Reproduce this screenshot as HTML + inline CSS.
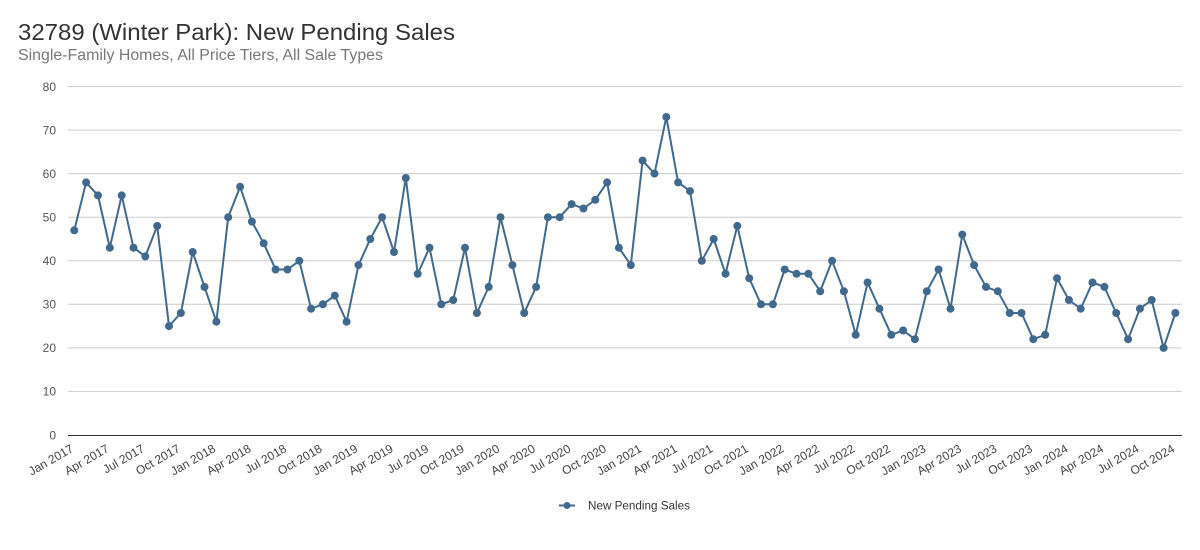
<!DOCTYPE html>
<html>
<head>
<meta charset="utf-8">
<style>
  html, body { margin: 0; padding: 0; background: #ffffff; }
  svg { display: block; font-family: "Liberation Sans", sans-serif; }
</style>
</head>
<body>
<svg width="1200" height="550" viewBox="0 0 1200 550" xmlns="http://www.w3.org/2000/svg">
  <rect width="1200" height="550" fill="#ffffff"/>
  <!-- Title -->
  <text x="18" y="40" font-size="23" fill="#333333" textLength="437" lengthAdjust="spacingAndGlyphs">32789 (Winter Park): New Pending Sales</text>
  <text x="18" y="60" font-size="15.5" fill="#777777" textLength="365" lengthAdjust="spacingAndGlyphs">Single-Family Homes, All Price Tiers, All Sale Types</text>

  <!-- Gridlines -->
  <g stroke="#cccccc" stroke-width="1">
    <line x1="68" y1="86.5" x2="1182" y2="86.5"/>
    <line x1="68" y1="130.1" x2="1182" y2="130.1"/>
    <line x1="68" y1="173.6" x2="1182" y2="173.6"/>
    <line x1="68" y1="217.2" x2="1182" y2="217.2"/>
    <line x1="68" y1="260.8" x2="1182" y2="260.8"/>
    <line x1="68" y1="304.3" x2="1182" y2="304.3"/>
    <line x1="68" y1="347.9" x2="1182" y2="347.9"/>
    <line x1="68" y1="391.4" x2="1182" y2="391.4"/>
  </g>
  <line x1="68" y1="435.5" x2="1182" y2="435.5" stroke="#333333" stroke-width="1"/>

  <!-- Y labels -->
  <g font-size="12" fill="#555555" text-anchor="end">
    <text x="56" y="91">80</text>
    <text x="56" y="134.5">70</text>
    <text x="56" y="178">60</text>
    <text x="56" y="221.5">50</text>
    <text x="56" y="265">40</text>
    <text x="56" y="308.5">30</text>
    <text x="56" y="352">20</text>
    <text x="56" y="395.5">10</text>
    <text x="56" y="439.5">0</text>
  </g>

  <!-- X labels -->
  <g font-size="12" fill="#444444" text-anchor="end">
    <text transform="translate(74.3,451) rotate(-30)">Jan 2017</text>
    <text transform="translate(109.8,451) rotate(-30)">Apr 2017</text>
    <text transform="translate(145.3,451) rotate(-30)">Jul 2017</text>
    <text transform="translate(180.9,451) rotate(-30)">Oct 2017</text>
    <text transform="translate(216.4,451) rotate(-30)">Jan 2018</text>
    <text transform="translate(251.9,451) rotate(-30)">Apr 2018</text>
    <text transform="translate(287.4,451) rotate(-30)">Jul 2018</text>
    <text transform="translate(322.9,451) rotate(-30)">Oct 2018</text>
    <text transform="translate(358.5,451) rotate(-30)">Jan 2019</text>
    <text transform="translate(394.0,451) rotate(-30)">Apr 2019</text>
    <text transform="translate(429.5,451) rotate(-30)">Jul 2019</text>
    <text transform="translate(465.0,451) rotate(-30)">Oct 2019</text>
    <text transform="translate(500.5,451) rotate(-30)">Jan 2020</text>
    <text transform="translate(536.1,451) rotate(-30)">Apr 2020</text>
    <text transform="translate(571.6,451) rotate(-30)">Jul 2020</text>
    <text transform="translate(607.1,451) rotate(-30)">Oct 2020</text>
    <text transform="translate(642.6,451) rotate(-30)">Jan 2021</text>
    <text transform="translate(678.1,451) rotate(-30)">Apr 2021</text>
    <text transform="translate(713.7,451) rotate(-30)">Jul 2021</text>
    <text transform="translate(749.2,451) rotate(-30)">Oct 2021</text>
    <text transform="translate(784.7,451) rotate(-30)">Jan 2022</text>
    <text transform="translate(820.2,451) rotate(-30)">Apr 2022</text>
    <text transform="translate(855.7,451) rotate(-30)">Jul 2022</text>
    <text transform="translate(891.3,451) rotate(-30)">Oct 2022</text>
    <text transform="translate(926.8,451) rotate(-30)">Jan 2023</text>
    <text transform="translate(962.3,451) rotate(-30)">Apr 2023</text>
    <text transform="translate(997.8,451) rotate(-30)">Jul 2023</text>
    <text transform="translate(1033.3,451) rotate(-30)">Oct 2023</text>
    <text transform="translate(1068.9,451) rotate(-30)">Jan 2024</text>
    <text transform="translate(1104.4,451) rotate(-30)">Apr 2024</text>
    <text transform="translate(1139.9,451) rotate(-30)">Jul 2024</text>
    <text transform="translate(1175.4,451) rotate(-30)">Oct 2024</text>
  </g>

  <!-- Series -->
  <polyline fill="none" stroke="#41698d" stroke-width="2" stroke-linejoin="round" points="
74.3,230.3 86.1,182.4 98.0,195.4 109.8,247.7 121.7,195.4 133.5,247.7 145.3,256.4 157.2,225.9 169.0,326.1 180.9,313.0 192.7,252.0 204.5,286.9
216.4,321.7 228.2,217.2 240.1,186.7 251.9,221.6 263.7,243.3 275.6,269.5 287.4,269.5 299.3,260.8 311.1,308.7 322.9,304.3 334.8,295.6 346.6,321.7
358.5,265.1 370.3,239.0 382.1,217.2 394.0,252.0 405.8,178.0 417.7,273.8 429.5,247.7 441.3,304.3 453.2,300.0 465.0,247.7 476.9,313.0 488.7,286.9
500.5,217.2 512.4,265.1 524.2,313.0 536.1,286.9 547.9,217.2 559.7,217.2 571.6,204.1 583.4,208.5 595.3,199.8 607.1,182.4 618.9,247.7 630.8,265.1
642.6,160.6 654.5,173.6 666.3,117.0 678.1,182.4 690.0,191.1 701.8,260.8 713.7,239.0 725.5,273.8 737.3,225.9 749.2,278.2 761.0,304.3 772.9,304.3
784.7,269.5 796.5,273.8 808.4,273.8 820.2,291.3 832.1,260.8 843.9,291.3 855.7,334.8 867.6,282.5 879.4,308.7 891.3,334.8 903.1,330.5 914.9,339.2
926.8,291.3 938.6,269.5 950.5,308.7 962.3,234.6 974.1,265.1 986.0,286.9 997.8,291.3 1009.7,313.0 1021.5,313.0 1033.3,339.2 1045.2,334.8 1057.0,278.2
1068.9,300.0 1080.7,308.7 1092.5,282.5 1104.4,286.9 1116.2,313.0 1128.1,339.2 1139.9,308.7 1151.7,300.0 1163.6,347.9 1175.4,313.0"/>

  <g fill="#41698d">
    <circle cx="74.3" cy="230.3" r="4"/><circle cx="86.1" cy="182.4" r="4"/><circle cx="98.0" cy="195.4" r="4"/><circle cx="109.8" cy="247.7" r="4"/>
    <circle cx="121.7" cy="195.4" r="4"/><circle cx="133.5" cy="247.7" r="4"/><circle cx="145.3" cy="256.4" r="4"/><circle cx="157.2" cy="225.9" r="4"/>
    <circle cx="169.0" cy="326.1" r="4"/><circle cx="180.9" cy="313.0" r="4"/><circle cx="192.7" cy="252.0" r="4"/><circle cx="204.5" cy="286.9" r="4"/>
    <circle cx="216.4" cy="321.7" r="4"/><circle cx="228.2" cy="217.2" r="4"/><circle cx="240.1" cy="186.7" r="4"/><circle cx="251.9" cy="221.6" r="4"/>
    <circle cx="263.7" cy="243.3" r="4"/><circle cx="275.6" cy="269.5" r="4"/><circle cx="287.4" cy="269.5" r="4"/><circle cx="299.3" cy="260.8" r="4"/>
    <circle cx="311.1" cy="308.7" r="4"/><circle cx="322.9" cy="304.3" r="4"/><circle cx="334.8" cy="295.6" r="4"/><circle cx="346.6" cy="321.7" r="4"/>
    <circle cx="358.5" cy="265.1" r="4"/><circle cx="370.3" cy="239.0" r="4"/><circle cx="382.1" cy="217.2" r="4"/><circle cx="394.0" cy="252.0" r="4"/>
    <circle cx="405.8" cy="178.0" r="4"/><circle cx="417.7" cy="273.8" r="4"/><circle cx="429.5" cy="247.7" r="4"/><circle cx="441.3" cy="304.3" r="4"/>
    <circle cx="453.2" cy="300.0" r="4"/><circle cx="465.0" cy="247.7" r="4"/><circle cx="476.9" cy="313.0" r="4"/><circle cx="488.7" cy="286.9" r="4"/>
    <circle cx="500.5" cy="217.2" r="4"/><circle cx="512.4" cy="265.1" r="4"/><circle cx="524.2" cy="313.0" r="4"/><circle cx="536.1" cy="286.9" r="4"/>
    <circle cx="547.9" cy="217.2" r="4"/><circle cx="559.7" cy="217.2" r="4"/><circle cx="571.6" cy="204.1" r="4"/><circle cx="583.4" cy="208.5" r="4"/>
    <circle cx="595.3" cy="199.8" r="4"/><circle cx="607.1" cy="182.4" r="4"/><circle cx="618.9" cy="247.7" r="4"/><circle cx="630.8" cy="265.1" r="4"/>
    <circle cx="642.6" cy="160.6" r="4"/><circle cx="654.5" cy="173.6" r="4"/><circle cx="666.3" cy="117.0" r="4"/><circle cx="678.1" cy="182.4" r="4"/>
    <circle cx="690.0" cy="191.1" r="4"/><circle cx="701.8" cy="260.8" r="4"/><circle cx="713.7" cy="239.0" r="4"/><circle cx="725.5" cy="273.8" r="4"/>
    <circle cx="737.3" cy="225.9" r="4"/><circle cx="749.2" cy="278.2" r="4"/><circle cx="761.0" cy="304.3" r="4"/><circle cx="772.9" cy="304.3" r="4"/>
    <circle cx="784.7" cy="269.5" r="4"/><circle cx="796.5" cy="273.8" r="4"/><circle cx="808.4" cy="273.8" r="4"/><circle cx="820.2" cy="291.3" r="4"/>
    <circle cx="832.1" cy="260.8" r="4"/><circle cx="843.9" cy="291.3" r="4"/><circle cx="855.7" cy="334.8" r="4"/><circle cx="867.6" cy="282.5" r="4"/>
    <circle cx="879.4" cy="308.7" r="4"/><circle cx="891.3" cy="334.8" r="4"/><circle cx="903.1" cy="330.5" r="4"/><circle cx="914.9" cy="339.2" r="4"/>
    <circle cx="926.8" cy="291.3" r="4"/><circle cx="938.6" cy="269.5" r="4"/><circle cx="950.5" cy="308.7" r="4"/><circle cx="962.3" cy="234.6" r="4"/>
    <circle cx="974.1" cy="265.1" r="4"/><circle cx="986.0" cy="286.9" r="4"/><circle cx="997.8" cy="291.3" r="4"/><circle cx="1009.7" cy="313.0" r="4"/>
    <circle cx="1021.5" cy="313.0" r="4"/><circle cx="1033.3" cy="339.2" r="4"/><circle cx="1045.2" cy="334.8" r="4"/><circle cx="1057.0" cy="278.2" r="4"/>
    <circle cx="1068.9" cy="300.0" r="4"/><circle cx="1080.7" cy="308.7" r="4"/><circle cx="1092.5" cy="282.5" r="4"/><circle cx="1104.4" cy="286.9" r="4"/>
    <circle cx="1116.2" cy="313.0" r="4"/><circle cx="1128.1" cy="339.2" r="4"/><circle cx="1139.9" cy="308.7" r="4"/><circle cx="1151.7" cy="300.0" r="4"/>
    <circle cx="1163.6" cy="347.9" r="4"/><circle cx="1175.4" cy="313.0" r="4"/>
  </g>

  <!-- Legend -->
  <line x1="559" y1="505.5" x2="575" y2="505.5" stroke="#41698d" stroke-width="2"/>
  <circle cx="567" cy="505.5" r="3.5" fill="#41698d"/>
  <text x="588" y="509.5" font-size="11.5" fill="#333333" textLength="102" lengthAdjust="spacingAndGlyphs">New Pending Sales</text>
</svg>
</body>
</html>
